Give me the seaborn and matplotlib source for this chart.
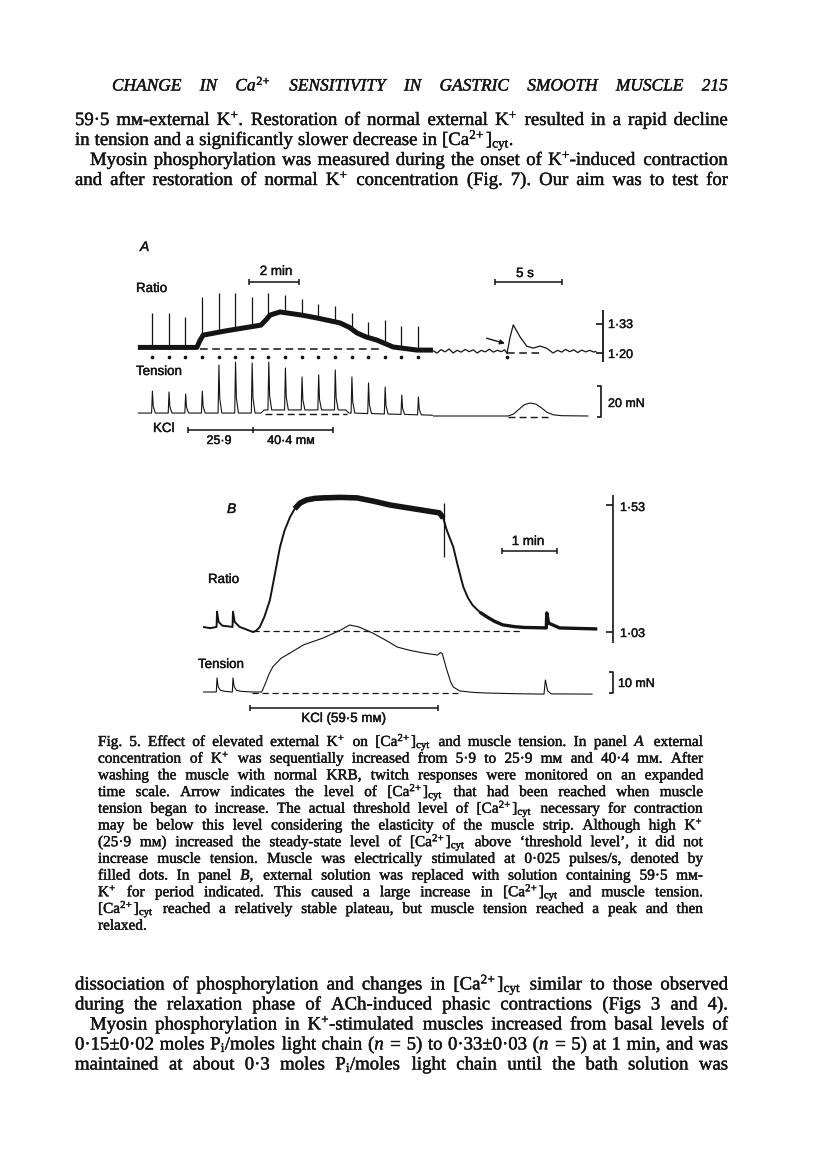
import numpy as np
import pandas as pd
import seaborn as sns
import matplotlib
matplotlib.use('Agg')
from matplotlib import pyplot as plt
from matplotlib import patheffects

W, H = 816, 1160

# ---------------- panel A, slow time base (s), one stimulus every 40 s ----------------
pulse_t = [0, 40, 80, 120, 160, 200, 240, 280, 320, 360, 400, 440, 480, 520, 560, 600, 640]
ratio_peak = [1.38, 1.38, 1.36, 1.45, 1.47, 1.47, 1.45, 1.47, 1.46, 1.44, 1.42, 1.41, 1.38, 1.34, 1.35, 1.32, 1.32]
tension_peak = [16.1, 15.5, 14.2, 16.1, 32.9, 34.8, 34.2, 34.8, 31.0, 25.2, 26.5, 29.7, 25.2, 21.3, 18.7, 13.5, 12.3]

ratio_t = [-34, 108, 115, 123, 180, 236, 262, 275, 284, 308, 360, 397, 452, 475, 493, 515, 541, 580, 638, 676]
ratio_r = [1.225, 1.225, 1.255, 1.28, 1.30, 1.317, 1.325, 1.35, 1.37, 1.384, 1.37, 1.357, 1.335, 1.315, 1.29,
           1.272, 1.258, 1.227, 1.213, 1.213]

tension_base_t = [-34, 262, 270, 466, 474, 676]
tension_base = [1.9, 1.9, 3.9, 3.9, 1.9, 0.5]

DOT_LEVEL = 1.182

# ---------------- panel A, expanded time base (s) ----------------
fast_t = [0.0, 0.3, 0.6, 0.9, 1.2, 1.5, 1.8, 2.1, 2.4, 2.7, 3.0, 3.3, 3.6, 3.9, 4.2, 4.5, 4.8, 5.1, 5.35,
          5.52, 5.75, 5.99, 6.49, 6.99, 7.46, 7.99, 8.49, 8.96, 9.3, 9.6, 9.9, 10.2, 10.5, 10.8, 11.1,
          11.4, 11.7, 12.0, 12.2]
fast_r = [1.21, 1.20, 1.215, 1.205, 1.218, 1.20, 1.212, 1.204, 1.216, 1.206, 1.214, 1.20, 1.212, 1.205,
          1.217, 1.204, 1.212, 1.206, 1.214, 1.198, 1.27, 1.326, 1.273, 1.231, 1.222, 1.231, 1.221, 1.20,
          1.212, 1.204, 1.216, 1.206, 1.214, 1.202, 1.213, 1.205, 1.212, 1.204, 1.208]
fast_tens_t = [0, 5.6, 6.0, 6.4, 6.8, 7.24, 7.7, 8.1, 8.5, 8.96, 9.6, 11.6]
fast_tens = [0, 0, 1.2, 4.2, 7.2, 8.4, 7.6, 5.2, 2.4, 0.8, 0.2, 0]

# ---------------- panel B (s) ----------------
b_ratio_t = [0, 8, 14.8, 15.3, 17, 21, 32.2, 32.7, 34.5, 40, 54.5, 58, 62, 67, 73, 78, 84, 89, 95, 100,
             106, 113, 122, 131, 150, 168, 186, 204, 230, 258, 262, 266, 273, 278, 284, 289, 294, 302,
             310, 318, 327, 340, 350, 374.5, 375, 377, 389, 430]
b_ratio_r = [1.05, 1.045, 1.05, 1.11, 1.07, 1.055, 1.05, 1.11, 1.07, 1.05, 1.03, 1.035, 1.05, 1.09, 1.156,
             1.25, 1.365, 1.43, 1.483, 1.515, 1.538, 1.55, 1.556, 1.558, 1.56, 1.558, 1.545, 1.53, 1.515,
             1.499, 1.479, 1.43, 1.365, 1.29, 1.207, 1.165, 1.136, 1.108, 1.089, 1.072, 1.058, 1.051,
             1.048, 1.046, 1.105, 1.065, 1.046, 1.042]
b_tens_t = [0, 14.5, 15.3, 16.5, 19, 24, 32, 32.7, 34, 36.5, 42, 54.5, 64, 68, 72, 76, 85, 95, 110, 131,
            150, 160, 170, 185, 200, 212, 226, 240, 256, 259, 261, 266, 270, 273, 280, 295, 310, 340,
            372, 373.5, 376, 380, 425]
b_tens = [0, 0, 6.7, 2.5, 0.8, 0.3, 0, 6.7, 2.5, 0.8, 0.3, 0, 0, 4.0, 8.5, 11.9, 16.0, 18.6, 22.5,
          25.7, 29.5, 31.9, 31.0, 28.1, 24.5, 21.4, 19.8, 18.6, 17.6, 18.8, 18.3, 10.5, 5.0, 2.4, 0.5,
          -0.2, -0.5, -0.8, -1.0, 5.7, 0.5, -0.9, -1.0]

# ---------------- page text ----------------
CA = r'$[\mathrm{Ca}^{2\!+}]_{\mathrm{cyt}}$'
HEADER = r'CHANGE IN $\mathit{Ca^{2\!+}}$ SENSITIVITY IN GASTRIC SMOOTH MUSCLE 215'
TOP_LINES = [
    r'59·5 mᴍ-external K$^{+}$. Restoration of normal external K$^{+}$ resulted in a rapid decline',
    r'in tension and a significantly slower decrease in ' + CA + '.',
    r'Myosin phosphorylation was measured during the onset of K$^{+}$-induced contraction',
    r'and after restoration of normal K$^{+}$ concentration (Fig. 7). Our aim was to test for',
]
CAPTION = [
    r'Fig. 5. Effect of elevated external K$^{+}$ on ' + CA + r' and muscle tension. In panel $A$ external',
    r'concentration of K$^{+}$ was sequentially increased from 5·9 to 25·9 mᴍ and 40·4 mᴍ. After',
    r'washing the muscle with normal KRB, twitch responses were monitored on an expanded',
    r'time scale. Arrow indicates the level of ' + CA + ' that had been reached when muscle',
    r'tension began to increase. The actual threshold level of ' + CA + ' necessary for contraction',
    r'may be below this level considering the elasticity of the muscle strip. Although high K$^{+}$',
    r'(25·9 mᴍ) increased the steady-state level of ' + CA + ' above ‘threshold level’, it did not',
    r'increase muscle tension. Muscle was electrically stimulated at 0·025 pulses/s, denoted by',
    r'filled dots. In panel $B$, external solution was replaced with solution containing 59·5 mᴍ-',
    r'K$^{+}$ for period indicated. This caused a large increase in ' + CA + ' and muscle tension.',
    CA + ' reached a relatively stable plateau, but muscle tension reached a peak and then',
    r'relaxed.',
]
BOTTOM_LINES = [
    r'dissociation of phosphorylation and changes in ' + CA + ' similar to those observed',
    r'during the relaxation phase of ACh-induced phasic contractions (Figs 3 and 4).',
    r'Myosin phosphorylation in K$^{+}$-stimulated muscles increased from basal levels of',
    r'0·15±0·02 moles P$_{\mathrm{i}}$/moles light chain ($n$ = 5) to 0·33±0·03 ($n$ = 5) at 1 min, and was',
    r'maintained at about 0·3 moles P$_{\mathrm{i}}$/moles light chain until the bath solution was',
]

SANS = ['Liberation Sans', 'DejaVu Sans']
SERIF = ['Liberation Serif', 'DejaVu Serif', 'DejaVu Sans']
INK = '#141414'
BOLDEN = [patheffects.withStroke(linewidth=0.3, foreground=INK)]

sns.set_theme(style='white')
plt.rcParams['font.family'] = SANS
plt.rcParams.update({'mathtext.fontset': 'custom', 'mathtext.rm': 'Liberation Serif',
                     'mathtext.it': 'Liberation Serif:italic', 'mathtext.bf': 'Liberation Serif:bold'})

fig = plt.figure(figsize=(W / 100, H / 100), dpi=100, facecolor='white')
renderer = fig.canvas.get_renderer()


def trace_axes(xmap, ymap, xlim, ylim):
    # axes whose data limits land on given page pixels (y grows downwards)
    (d0, p0), (d1, p1) = xmap
    kx = (p1 - p0) / (d1 - d0)
    left, right = p0 + (xlim[0] - d0) * kx, p0 + (xlim[1] - d0) * kx
    (e0, q0), (e1, q1) = ymap
    ky = (q1 - q0) / (e1 - e0)
    bottom, top = q0 + (ylim[0] - e0) * ky, q0 + (ylim[1] - e0) * ky
    ax = fig.add_axes([left / W, 1 - bottom / H, (right - left) / W, (bottom - top) / H])
    ax.set_xlim(xlim)
    ax.set_ylim(ylim)
    ax.axis('off')
    ax.patch.set_alpha(0)
    return ax


def trace(ax, x, y, lw=0.8, **kw):
    sns.lineplot(x=list(x), y=list(y), ax=ax, color=INK, lw=lw, sort=False, estimator=None,
                 legend=False, solid_capstyle='butt', **kw)


def hbar(ax, x0, x1, y, tick, mids=()):
    trace(ax, [x0, x1], [y, y], lw=1.1)
    for x in (x0, x1, *mids):
        trace(ax, [x, x], [y - tick, y + tick], lw=1.1)


def lab(x, y, s, ha='left', size=9.6, **kw):
    fig.text(x / W, 1 - y / H, s, ha=ha, va='baseline', fontsize=size, family=SANS, color=INK,
             path_effects=[patheffects.withStroke(linewidth=0.3, foreground=INK)], **kw)


DASH = (0, (5, 3))

# ---- panel A axes ----
xmapA = ((0, 152), (640, 418))
xmapF = ((0, 433), (5, 500))
ymapR = ((1.20, 353), (1.33, 324))
ymapT = ((0, 416), (20, 385))
axRA = trace_axes(xmapA, ymapR, (-40, 690), (1.15, 1.60))
axRF = trace_axes(xmapF, ymapR, (0, 14.5), (1.15, 1.60))
axTA = trace_axes(xmapA, ymapT, (-40, 690), (-22, 40))
axTF = trace_axes(xmapF, ymapT, (0, 14.5), (-22, 40))

# ratio, slow
trace(axRA, ratio_t, ratio_r, lw=3.6)
spike_base = np.interp(pulse_t, ratio_t, ratio_r)
axRA.vlines(pulse_t, spike_base, ratio_peak, color=INK, lw=0.9)
trace(axRA, [115, 553], [1.22, 1.22], lw=1.1, linestyle=DASH)
sns.scatterplot(x=pulse_t, y=[DOT_LEVEL] * len(pulse_t), ax=axRA, s=7, color=INK, linewidth=0, legend=False)
hbar(axRA, 233, 353, 1.518, 0.014)

# ratio, expanded
trace(axRF, fast_t, fast_r, lw=0.9)
trace(axRF, [5.5, 8.2], [1.20, 1.20], lw=1.1, linestyle=DASH)
sns.scatterplot(x=[5.52], y=[DOT_LEVEL], ax=axRF, s=7, color=INK, linewidth=0, legend=False)
axRF.annotate('', xy=(5.37, 1.243), xytext=(4.0, 1.266),
              arrowprops=dict(arrowstyle='-|>', color=INK, lw=1.0, mutation_scale=7, shrinkA=0, shrinkB=0))
hbar(axRF, 4.6, 9.6, 1.518, 0.014)
trace(axRF, [12.69, 12.69], [1.16, 1.393], lw=1.3)
for r in (1.20, 1.33):
    trace(axRF, [12.17, 12.69], [r, r], lw=1.2)

# tension, slow
pts = list(zip(tension_base_t, tension_base))
base_at_pulse = np.interp(pulse_t, tension_base_t, tension_base)
for t, p, b in zip(pulse_t, tension_peak, base_at_pulse):
    pts += [(t - 1, b), (t + 1, p), (t + 3, b + 0.3 * (p - b)), (t + 8, b)]
tens_df = pd.DataFrame(pts, columns=['t', 'mN']).sort_values('t')
trace(axTA, tens_df['t'], tens_df['mN'], lw=0.8)
trace(axTA, [272, 469], [1.3, 1.3], lw=1.0, linestyle=DASH)
hbar(axTA, 87, 436, -9.0, 2.0, mids=(243,))

# tension, expanded
trace(axTF, fast_tens_t, fast_tens, lw=0.8)
trace(axTF, [5.6, 8.6], [-0.6, -0.6], lw=1.0, linestyle=DASH)
trace(axTF, [12.24, 12.54, 12.54, 12.24], [-0.6, -0.6, 19.4, 19.4], lw=1.2)

# ---- panel B axes ----
xmapB = ((0, 203), (60, 258))
axRB = trace_axes(xmapB, ((1.03, 632), (1.53, 505)), (-10, 480), (0.95, 1.62))
axTB = trace_axes(xmapB, ((0, 692), (10, 671)), (-10, 480), (-16, 36))

rb = pd.DataFrame({'t': b_ratio_t, 'r': b_ratio_r})
trace(axRB, rb['t'], rb['r'], lw=1.4)
plateau = rb[(rb['t'] >= 100) & (rb['t'] <= 262)]
trace(axRB, plateau['t'], plateau['r'], lw=4.0)
tail = rb[rb['t'] >= 302]
trace(axRB, tail['t'], tail['r'], lw=2.4)
axRB.vlines([263], [1.325], [1.538], color=INK, lw=0.9)
trace(axRB, [54.5, 345.7], [1.034, 1.034], lw=0.9, linestyle=DASH)
trace(axRB, [447.3, 447.3], [0.987, 1.569], lw=1.2)
for r in (1.03, 1.53):
    trace(axRB, [439.7, 447.3], [r, r], lw=1.2)
hbar(axRB, 326, 386, 1.349, 0.012)

trace(axTB, b_tens_t, b_tens, lw=0.8)
trace(axTB, [53.4, 278], [-0.5, -0.5], lw=0.9, linestyle=DASH)
trace(axTB, [443, 447.3, 447.3, 443], [-0.5, -0.5, 9.5, 9.5], lw=1.2)
hbar(axTB, 51, 256, -7.6, 1.4)

# ---- figure labels ----
lab(140, 251, 'A', style='italic', size=10)
lab(276, 275, '2 min', ha='center')
lab(136, 292, 'Ratio')
lab(525, 277, '5 s', ha='center')
lab(608, 328, '1·33', size=9)
lab(608, 358, '1·20', size=9)
lab(136, 375, 'Tension')
lab(608, 407, '20 mN', size=9)
lab(153, 432, 'KCl')
lab(219, 444, '25·9', ha='center', size=9)
lab(291, 444, '40·4 mᴍ', ha='center', size=9)
lab(227, 513, 'B', style='italic', size=10)
lab(620, 511, '1·53', size=9)
lab(528, 545, '1 min', ha='center')
lab(208, 583, 'Ratio')
lab(620, 637, '1·03', size=9)
lab(198, 668, 'Tension')
lab(618, 687, '10 mN', size=9)
lab(344, 722, 'KCl (59·5 mᴍ)', ha='center')


# ---- page text, justified ----
def place_line(line, y, x0, x1, size, justify=True, indent=0, **kw):
    words = line.split()
    objs = [fig.text(0, 0, w, fontsize=size, ha='left', va='baseline', family=SERIF, color=INK,
                     path_effects=BOLDEN, **kw)
            for w in words]
    widths = [o.get_window_extent(renderer).width for o in objs]
    start = x0 + indent
    if justify and len(words) > 1:
        gap = (x1 - start - sum(widths)) / (len(words) - 1)
    else:
        gap = 0.26 * size * 100 / 72
    x = start
    for o, w in zip(objs, widths):
        o.set_position((x / W, 1 - y / H))
        x += w + gap


place_line(HEADER, 90.5, 112, 728, 12.5, style='italic')
for i, line in enumerate(TOP_LINES):
    place_line(line, 125 + 20 * i, 75, 728, 13.5, justify=(i != 1), indent=15 if i == 2 else 0)
for i, line in enumerate(CAPTION):
    place_line(line, 746 + 16.7 * i, 98, 703, 11, justify=(i != len(CAPTION) - 1))
for i, line in enumerate(BOTTOM_LINES):
    place_line(line, 989.5 + 20 * i, 75, 728, 13.5, indent=15 if i == 2 else 0)

fig.savefig('out.png', dpi=100, facecolor='white')
